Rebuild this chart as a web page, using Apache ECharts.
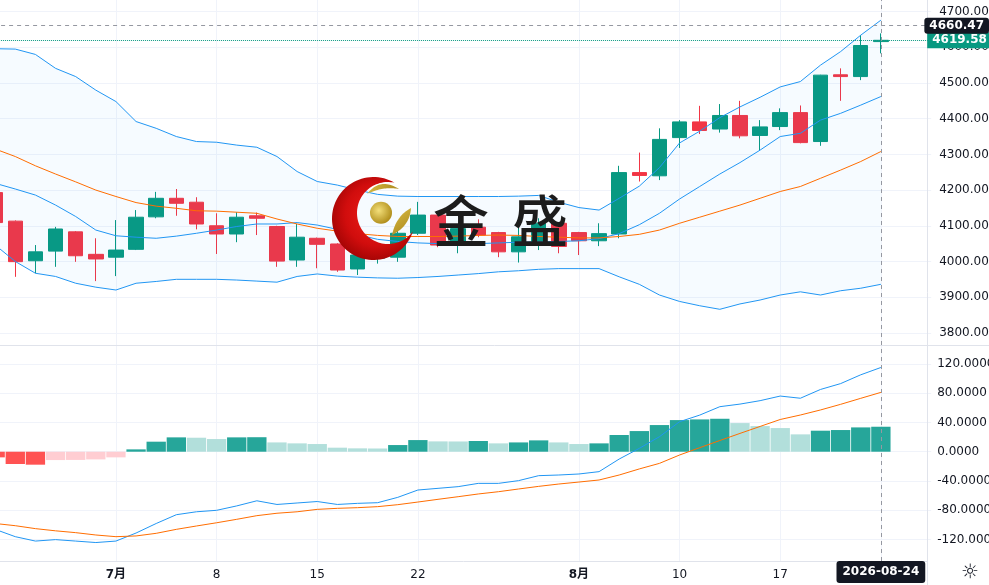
<!DOCTYPE html>
<html><head><meta charset="utf-8">
<script src="https://cdn.jsdelivr.net/npm/echarts@6/dist/echarts.min.js"></script>
<style>html,body{margin:0;padding:0;background:#fff;overflow:hidden}#c{width:989px;height:585px}</style>
</head><body><div id="c"></div>
<script>
const dates = ['2026-06-23','2026-06-24','2026-06-25','2026-06-26','2026-06-29','2026-06-30',
 '2026-07-01','2026-07-02','2026-07-03','2026-07-06','2026-07-07','2026-07-08','2026-07-09','2026-07-10',
 '2026-07-13','2026-07-14','2026-07-15','2026-07-16','2026-07-17','2026-07-20','2026-07-21','2026-07-22',
 '2026-07-23','2026-07-24','2026-07-27','2026-07-28','2026-07-29','2026-07-30','2026-07-31',
 '2026-08-03','2026-08-04','2026-08-05','2026-08-06','2026-08-07','2026-08-10','2026-08-11','2026-08-12',
 '2026-08-13','2026-08-14','2026-08-17','2026-08-18','2026-08-19','2026-08-20','2026-08-21','2026-08-24'];
const padDates = ['2026-08-25','2026-08-26'];

const opens  = [4193,4113,4002,4029,4083,4020,4012,4034,4125,4177,4166,4100,4077,4128,4098,4004,4065,4049,3979,4009,4012,4079,4130,4046,4096,4081,4027,4055,4107,4081,4058,4077,4249,4240,4347,4391,4371,4409,4353,4378,4417,4336,4523,4518,4616];
const closes = [4109,3999.5,4027,4091,4016,4007,4032,4124,4177,4163,4105,4077,4124,4121,4001,4068,4048,3976,4018,4035,4079,4130,4046,4092,4074,4027,4069,4107,4042,4058,4078,4249,4241,4342,4391,4367,4409,4352,4377,4417,4333,4522,4518,4605,4619.58];
const lows   = [4095,3957,3967,3985,3999,3945,3959,4032,4121,4128,4090,4021,4054,4074,3985,3985,3981,3971,3962,3994,3999,4074,4040,4023,4068,4012,3997,4032,4023,4018,4043,4065,4224,4228,4318,4357,4361,4345,4312,4368,4331,4324,4450,4508,4583];
const highs  = [4205,4115,4046,4097,4085,4065,4116,4144,4195,4203,4180,4135,4138,4137,4100,4105,4067,4051,4025,4045,4088,4167,4133,4105,4118,4083,4096,4121,4110,4083,4107,4268,4305,4373,4396,4436,4441,4450,4396,4429,4437,4523,4541,4634,4639];

const bbUpper  = [4596,4595,4580,4541,4518,4480,4448,4392,4373,4350,4336,4334,4326,4320,4294,4252,4224,4214,4200,4188,4183,4182,4182,4182,4182,4182,4183,4185,4166,4151,4144,4177,4211,4263,4332,4365,4403,4433,4460,4489,4504,4550,4588,4634,4676];
const bbMiddle = [4219,4203,4186,4158,4126,4088,4072,4068,4065,4071,4079,4088,4098,4105,4105,4109,4102,4090,4075,4062,4056,4052,4050,4049,4050,4052,4054,4055,4056,4058,4064,4078,4103,4135,4175,4210,4245,4277,4312,4350,4359,4396,4415,4438,4462];
const bbLower  = [4046,4000,3967,3958,3939,3928,3920,3939,3944,3950,3950,3950,3948,3945,3942,3958,3965,3959,3956,3954,3953,3955,3958,3962,3966,3971,3974,3978,3980,3980,3980,3957,3936,3906,3888,3876,3866,3881,3892,3906,3915,3906,3918,3925,3936];
const maOrange = [4315,4294,4268,4245,4223,4200,4182,4165,4155,4149,4142,4141,4138,4135,4119,4105,4093,4085,4078,4073,4070,4070,4070,4071,4073,4074,4073,4070,4068,4066,4066,4070,4076,4088,4107,4124,4141,4158,4177,4196,4210,4233,4256,4280,4308];

const macdLine   = [-106,-116,-122,-120,-122,-124,-122,-111,-98,-86,-82,-80,-74,-67,-72,-70,-68,-72,-70.5,-69.6,-62.3,-52.3,-50,-47.7,-43.2,-43.2,-39.5,-32.7,-31.8,-30.4,-27.2,-10,4.6,20.5,41,50,61.5,65,69.7,76,73,85,93,105,115];
const signalLine = [-98,-101,-105,-108,-110.5,-113.7,-116,-115,-111.4,-106,-101.4,-97,-92.3,-87.3,-84,-82,-78.7,-77.3,-76.4,-75,-72.3,-68.7,-65,-61.4,-57.7,-54.6,-50.9,-47.3,-44.1,-41.4,-38.6,-31.8,-23.5,-15.9,-4.5,5.5,15.3,25,34.5,44,50.1,57,64.7,72.9,81];
const macdHist   = [-7.7,-16.8,-17.7,-11.4,-11.2,-10.5,-7.7,3.2,13.7,19.6,19.1,17.3,19.6,19.8,12.7,11.4,10.5,5.5,4.6,4.4,9.1,15.9,14.1,14.0,14.6,11.4,12.7,15.5,12.7,10.5,11.4,22.8,28.2,36.4,43.2,44.1,45,39.1,35,32.3,23.7,28.7,29.6,33.2,34.1];

const xTickDates  = ['2026-07-01','2026-07-08','2026-07-15','2026-07-22','2026-08-03','2026-08-10','2026-08-17','2026-08-24'];
const xTickLabels = ['7月','8','15','22','8月','10','17','24'];
const priceTicks = [3800,3900,4000,4100,4200,4300,4400,4500,4600,4700];
const macdTicks  = [-120,-80,-40,0,40,80,120];
const crosshairDate = '2026-08-24';
const crosshairPrice = 4660.47;

// ---- build ----
const cats = dates.concat(padDates);
const candleData = opens.map((o,i)=>[o, closes[i], lows[i], highs[i]]);
const bandWidthData = bbUpper.map((u,i)=>u - bbLower[i]);
const UP='#089981', DOWN='#f23645';
const histData = macdHist.map((v,i)=>{
  const p = i ? macdHist[i-1] : v;
  const c = v >= 0 ? (v > p ? '#26a69a' : '#b2dfdb') : (v > p ? '#ffcdd2' : '#ff5252');
  return {value: v, itemStyle: {color: c}};
});
const isTick = (idx, val) => xTickDates.indexOf(val) >= 0;
const FONT = "'DejaVu Sans', 'Noto Sans CJK SC', sans-serif";
const TXT = '#131722';
const GRIDC = '#f0f3fa';
const ptrLine = {color:'#9598a1', type:[4,4], width:1};

function crescent(cx1,cy1,r1,cx2,cy2,r2,n){
  const dx=cx2-cx1, dy=cy2-cy1, d=Math.hypot(dx,dy);
  const a=(r1*r1-r2*r2+d*d)/(2*d), h=Math.sqrt(r1*r1-a*a);
  const ux=dx/d, uy=dy/d, px=cx1+a*ux, py=cy1+a*uy;
  const A=[px-h*uy, py+h*ux], B=[px+h*uy, py-h*ux];
  const pts=[];
  const a1=Math.atan2(A[1]-cy1,A[0]-cx1), b1=Math.atan2(B[1]-cy1,B[0]-cx1);
  let s1=b1-a1; while(s1<0) s1+=2*Math.PI;
  let m=a1+s1/2; if (Math.hypot(cx1+r1*Math.cos(m)-cx2, cy1+r1*Math.sin(m)-cy2) < r2) s1-=2*Math.PI;
  for(let k=0;k<=n;k++){const t=a1+s1*k/n; pts.push([cx1+r1*Math.cos(t), cy1+r1*Math.sin(t)]);}
  const b2=Math.atan2(B[1]-cy2,B[0]-cx2), a2=Math.atan2(A[1]-cy2,A[0]-cx2);
  let s2=a2-b2; while(s2<0) s2+=2*Math.PI;
  m=b2+s2/2; if (Math.hypot(cx2+r2*Math.cos(m)-cx1, cy2+r2*Math.sin(m)-cy1) > r1) s2-=2*Math.PI;
  for(let k=0;k<=n;k++){const t=b2+s2*k/n; pts.push([cx2+r2*Math.cos(t), cy2+r2*Math.sin(t)]);}
  return pts;
}
function leaf(p0,c1,p1,c2,n){
  const q=(a,c,b,t)=>[(1-t)*(1-t)*a[0]+2*(1-t)*t*c[0]+t*t*b[0],(1-t)*(1-t)*a[1]+2*(1-t)*t*c[1]+t*t*b[1]];
  const pts=[];
  for(let k=0;k<=n;k++) pts.push(q(p0,c1,p1,k/n));
  for(let k=0;k<=n;k++) pts.push(q(p1,c2,p0,k/n));
  return pts;
}
const gold = {type:'radial', x:0.4, y:0.4, r:0.7, colorStops:[{offset:0,color:'#f3df7a'},{offset:1,color:'#a8840f'}]};
const goldLeaf = {type:'linear', x:0, y:0, x2:1, y2:1, colorStops:[{offset:0,color:'#d9bc45'},{offset:1,color:'#a9861a'}]};

const chart = echarts.init(document.getElementById('c'), null, {renderer:'canvas'});
chart.setOption({
  animation: false,
  backgroundColor: '#ffffff',
  grid: [
    {left: -14.9, top: 0, width: 946.1, height: 345, containLabel:false, outerBoundsMode:'none'},
    {left: -14.9, top: 345, width: 946.1, height: 216, containLabel:false, outerBoundsMode:'none'}
  ],
  xAxis: [
    {type:'category', gridIndex:0, data:cats, boundaryGap:true,
     axisLine:{show:false}, axisTick:{show:false}, axisLabel:{show:false},
     splitLine:{show:true, interval:isTick, alignWithLabel:true, lineStyle:{color:GRIDC}},
     axisPointer:{show:true, status:'show', value:crosshairDate, type:'line', lineStyle:ptrLine, label:{show:false}}},
    {type:'category', gridIndex:1, data:cats, boundaryGap:true,
     axisLine:{show:false}, axisTick:{show:false},
     axisLabel:{show:true, interval:isTick, margin:8, color:TXT, fontSize:12, fontFamily:FONT,
       formatter:(v)=>{const i=xTickDates.indexOf(v); if(i<0) return ''; const t=xTickLabels[i]; return t.indexOf('月')>=0 ? '{b|'+t+'}' : t;},
       rich:{b:{fontWeight:'bold', color:TXT, fontSize:12, fontFamily:FONT}}},
     splitLine:{show:true, interval:isTick, alignWithLabel:true, lineStyle:{color:GRIDC}},
     axisPointer:{show:true, status:'show', value:crosshairDate, type:'line', lineStyle:ptrLine,
       label:{show:true, backgroundColor:'#131722', color:'#fff', fontWeight:'bold', fontSize:12, fontFamily:FONT, padding:[5,6,5,6], margin:0}}}
  ],
  yAxis: [
    {type:'value', gridIndex:0, position:'right', offset:-4, min:3766, max:4732.5, splitNumber:10,
     axisLine:{show:false}, axisTick:{show:false, customValues:priceTicks},
     axisLabel:{customValues:priceTicks, formatter:(v)=>Number(v).toFixed(2), color:TXT, fontSize:12, fontFamily:FONT, margin:12},
     splitLine:{show:true, lineStyle:{color:GRIDC}},
     axisPointer:{show:true, status:'show', value:crosshairPrice, type:'line', lineStyle:ptrLine,
       label:{show:true, formatter:(p)=>Number(p.value).toFixed(2), backgroundColor:'#131722', color:'#fff', fontWeight:'bold', fontSize:12, lineHeight:12, fontFamily:FONT, padding:[2,5,2,5], margin:0}}},
    {type:'value', gridIndex:1, position:'right', offset:-4, min:-149.2, max:145.7, splitNumber:7,
     axisLine:{show:false}, axisTick:{show:false, customValues:macdTicks},
     axisLabel:{customValues:macdTicks, formatter:(v)=>Number(v).toFixed(4), color:TXT, fontSize:12, fontFamily:FONT, margin:10},
     splitLine:{show:true, lineStyle:{color:GRIDC}}}
  ],
  series: [
    {name:'lowerBase', type:'line', xAxisIndex:0, yAxisIndex:0, data:bbLower, stack:'bb', symbol:'none', silent:true,
     lineStyle:{width:0, opacity:0}},
    {name:'bandFill', type:'line', xAxisIndex:0, yAxisIndex:0, data:bandWidthData, stack:'bb', symbol:'none', silent:true,
     lineStyle:{width:0, opacity:0}, areaStyle:{color:'rgba(33,150,243,0.055)'}},
    {name:'upper', type:'line', xAxisIndex:0, yAxisIndex:0, data:bbUpper, symbol:'none', silent:true, lineStyle:{color:'#2196f3', width:1}},
    {name:'middle', type:'line', xAxisIndex:0, yAxisIndex:0, data:bbMiddle, symbol:'none', silent:true, lineStyle:{color:'#2196f3', width:1}},
    {name:'lower', type:'line', xAxisIndex:0, yAxisIndex:0, data:bbLower, symbol:'none', silent:true, lineStyle:{color:'#2196f3', width:1}},
    {name:'ma', type:'line', xAxisIndex:0, yAxisIndex:0, data:maOrange, symbol:'none', silent:true, lineStyle:{color:'#ff6d00', width:1}},
    {name:'price', type:'candlestick', xAxisIndex:0, yAxisIndex:0, data:candleData, barWidth:15,
     itemStyle:{color:UP, color0:DOWN, borderColor:UP, borderColor0:DOWN, borderWidth:1},
     markLine:{silent:true, symbol:['none','none'], data:[{yAxis: closes[closes.length-1]}],
       lineStyle:{color:UP, type:'dotted', width:1},
       label:{show:true, position:'end', distance:-4, formatter:(p)=>Number(p.value).toFixed(2),
         backgroundColor:UP, color:'#fff', fontWeight:'bold', fontSize:12, lineHeight:12, fontFamily:FONT, padding:[2,5,2,5]}}},
    {name:'hist', type:'bar', xAxisIndex:1, yAxisIndex:1, data:histData, barCategoryGap:'4%', silent:true},
    {name:'macd', type:'line', xAxisIndex:1, yAxisIndex:1, data:macdLine, symbol:'none', silent:true, lineStyle:{color:'#2196f3', width:1}},
    {name:'signal', type:'line', xAxisIndex:1, yAxisIndex:1, data:signalLine, symbol:'none', silent:true, lineStyle:{color:'#ff6d00', width:1}}
  ],
  graphic: [
    {type:'line', z:1, silent:true, shape:{x1:927.5,y1:0,x2:927.5,y2:585}, style:{stroke:'#e0e3eb', lineWidth:1}},
    {type:'line', z:1, silent:true, shape:{x1:0,y1:345.5,x2:989,y2:345.5}, style:{stroke:'#e0e3eb', lineWidth:1}},
    {type:'line', z:1, silent:true, shape:{x1:0,y1:561.5,x2:927,y2:561.5}, style:{stroke:'#e0e3eb', lineWidth:1}},
    {type:'polygon', z:100, silent:true, shape:{points:crescent(373.5,218.5,41.5,388,213,31,72)},
     style:{fill:{type:'radial', x:0.55, y:0.45, r:0.7, colorStops:[{offset:0,color:'#f0201a'},{offset:0.55,color:'#d10d0d'},{offset:1,color:'#8a0000'}]}}},
    {type:'circle', z:100, silent:true, shape:{cx:381, cy:212.7, r:11}, style:{fill:gold}},
    {type:'polygon', z:100, silent:true, shape:{points:leaf([367,194],[380,177],[399,189],[383,186],24)}, style:{fill:goldLeaf}},
    {type:'polygon', z:100, silent:true, shape:{points:leaf([392,235],[396,216],[411,208],[410,226],24)}, style:{fill:goldLeaf}},
    {type:'text', z:100, silent:true, x:461, y:221, style:{text:'金', font:'500 56px "Noto Sans CJK SC"', fill:'#1c1c1c', textAlign:'center', textVerticalAlign:'middle'}},
    {type:'text', z:100, silent:true, x:540, y:221, style:{text:'盛', font:'500 56px "Noto Sans CJK SC"', fill:'#1c1c1c', textAlign:'center', textVerticalAlign:'middle'}},
    {type:'text', z:100, silent:true, x:970, y:573, style:{text:'☼', font:'20px "DejaVu Sans"', fill:TXT, textAlign:'center', textVerticalAlign:'middle'}}
  ]
});
</script>
</body></html>
